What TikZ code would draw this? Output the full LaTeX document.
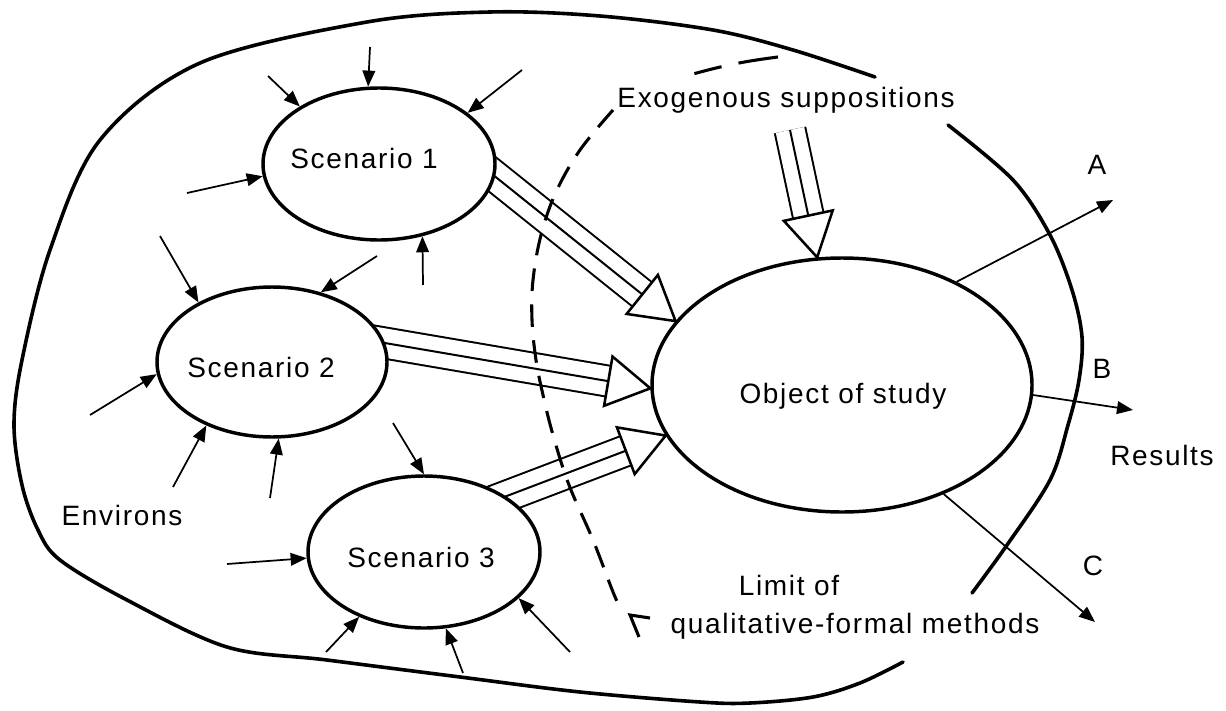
\documentclass[tikz,border=0pt]{standalone}
\usepackage{fontspec}
\setmainfont{Liberation Sans}[LetterSpace=6]
\usetikzlibrary{shapes.geometric,arrows.meta,calc}
\pgfdeclarelayer{under}
\pgfsetlayers{under,main}

% broad hollow arrow: three-line shaft from #1 to a base short of the tip #2, open triangular head
\newcommand{\fatshaft}[3]{%
  \coordinate (#3b) at ($(#2)!32pt!(#1)$);
  \draw[line width=24.75pt] (#1) -- (#3b);
  \draw[white,line width=21.75pt] (#1) -- (#3b);
  \draw[line width=1.5pt] (#1) -- (#3b);
  \draw[line width=1.9pt,fill=white,line join=miter]
    ($(#3b)!18.75pt!90:(#2)$) -- (#2) -- ($(#3b)!18.75pt!-90:(#2)$) -- cycle;
}

\begin{document}
\begin{tikzpicture}[x=0.75pt,y=-0.75pt,
  txt/.style={font=\fontsize{21}{25}\selectfont,inner sep=0pt,anchor=base},
  scen/.style={ellipse,draw,line width=2.6pt,fill=white,inner sep=0pt},
  rim/.style={line width=2.7pt,line cap=round,line join=round},
  feed/.style={line width=1.3pt,-{Triangle[length=12pt,width=9.5pt]}},
  limit/.style={line width=2.3pt,dash pattern=on 17pt off 10pt}]
\useasboundingbox (0,0) rectangle (1226,710);

% central object and the three scenarios
\node[scen,minimum width=285pt,minimum height=190.5pt] (obj) at (842,385) {};
\node[scen,minimum width=174pt,minimum height=114pt] (s1) at (379,164) {};
\node[scen,minimum width=172.5pt,minimum height=112.5pt] (s2) at (272,362) {};
\node[scen,minimum width=174pt,minimum height=114pt] (s3) at (424,552) {};

% broad arrows into the object of study
\coordinate (h1) at (452,142);
\coordinate (h2) at (338,335);
\coordinate (h3) at (470,510);
\coordinate (h4) at (790,130);
\coordinate (t1) at (obj.159.7);
\coordinate (t2) at (obj.181.2);
\coordinate (t3) at (obj.196.8);
\coordinate (t4) at (obj.101.9);
\begin{pgfonlayer}{under}
  \fatshaft{h1}{t1}{f1}
  \fatshaft{h2}{t2}{f2}
  \fatshaft{h3}{t3}{f3}
  \fatshaft{h4}{t4}{f4}
\end{pgfonlayer}

% influences from the environs
\foreach \i/\x/\y/\n/\a in {
  1/370/47/s1/98.9, 2/268/76/s1/144, 3/522/70/s1/30.3, 4/187/193/s1/186.9, 5/423/285/s1/301,
  6/160/236/s2/141, 7/377/256/s2/55.2, 8/90/415/s2/186.4, 9/173/487/s2/224.6, 10/270/498/s2/275.7,
  11/393/423/s3/90.8, 12/227/564/s3/183, 13/326/652/s3/225, 14/463/673/s3/286.4, 15/570/652/s3/334.9}
{
  \coordinate (e\i) at (\x,\y);
  \draw[feed] (e\i) -- (\n.\a);
}

% results
\coordinate (rA) at (1113,200);
\coordinate (rB) at (1133,410);
\coordinate (rC) at (1095,622);
\draw[feed] (obj.42.4) -- (rA);
\draw[feed] (obj.-3.9) -- (rB);
\draw[feed] (obj.-47.4) -- (rC);

% boundary of the environs
\draw[rim] plot[smooth,tension=0.55] coordinates {
  (875,77) (793,50) (713,30) (600,16) (490,12) (367,22) (200,63) (100,140)
  (50,250) (22,360) (14,425) (22,485) (38,530) (60,560) (127,600) (227,647)
  (327,660) (460,677) (580,692) (700,702) (750,703) (813,697) (860,683) (903,662)};
\draw[rim] plot[smooth,tension=0.55] coordinates {
  (948,125) (1013,180) (1050,235) (1072,290) (1082,337) (1079,380) (1068,425)
  (1050,480) (1007,545) (972,593)};

% limit of qualitative-formal methods
\draw[line width=2.3pt,dash pattern=on 30pt off 13pt on 21pt off 200pt]
  (778,57) to[bend right=4] (693,74);
\draw[limit] plot[smooth,tension=0.6] coordinates {
  (613,110) (580,150) (556,192) (541,235) (533,280) (532,320) (536,360)
  (543,395) (553,435) (569,485) (593,540) (613,592) (622,612)};
\coordinate (m1) at (650,618);
\coordinate (m2) at (630,615);
\coordinate (m3) at (639,637);
\draw[line width=2.3pt] (m1) -- (m2) -- (m3);

% texts
\node[txt] (exo) at (786,107) {Exogenous suppositions};
\node[txt] (l1) at (364,168) {Scenario 1};
\node[txt] (l2) at (261,377) {Scenario 2};
\node[txt] (l3) at (421,567) {Scenario 3};
\node[txt] (env) at (122,525) {Environs};
\node[txt] (lo) at (843,403) {Object of study};
\node[txt] (lim1) at (789,595) {Limit of};
\node[txt] (lim2) at (855,633) {qualitative-formal methods};
\node[txt] (la) at (1097,174) {A};
\node[txt] (lb) at (1102,378) {B};
\node[txt] (lc) at (1093,575) {C};
\node[txt] (res) at (1162,465) {Results};
\end{tikzpicture}
\end{document}
